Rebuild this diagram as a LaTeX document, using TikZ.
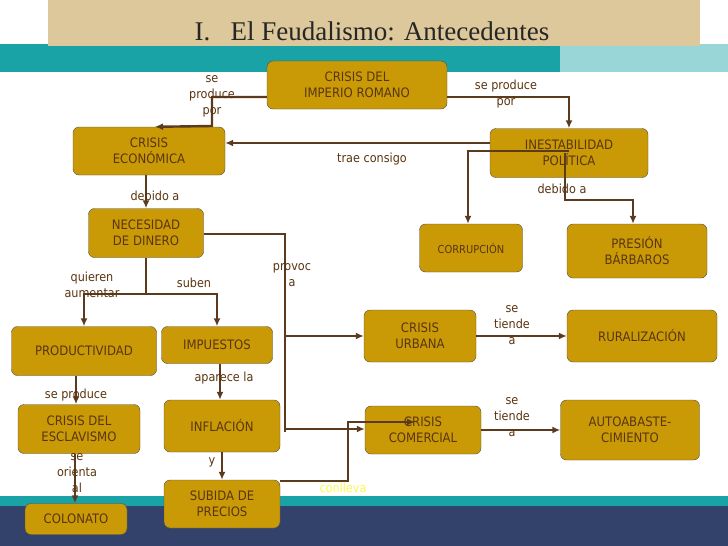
\documentclass[tikz,border=0pt]{standalone}
\usepackage{fontspec}
\setmainfont{Liberation Serif}
\setsansfont{DejaVu Sans Condensed}
\usetikzlibrary{positioning,calc,arrows.meta}
\definecolor{boxgold}{HTML}{C99A06}
\definecolor{boxtext}{HTML}{5A3510}
\definecolor{linebrown}{HTML}{5C3A1E}
\definecolor{bandteal}{HTML}{1AA3A6}
\definecolor{bandnavy}{HTML}{33426B}
\definecolor{titlebg}{HTML}{DCC89A}

\begin{document}
\begin{tikzpicture}[
      x=1pt, y=-1pt,
      concept/.style={draw=black!70, rounded corners=6pt, fill=boxgold, align=center,
        text=boxtext, font=\sffamily\fontsize{13}{16}\selectfont, inner sep=2pt},
      link/.style={draw=linebrown, line width=2.4pt},
      lbl/.style={align=center, text=boxtext, font=\sffamily\fontsize{12.5}{16}\selectfont, inner sep=0pt},
      >={Latex[length=8pt,width=7pt]}
    ]
    \useasboundingbox (0,0) rectangle (728,546);

    % Background bands
    \fill[bandteal] (0,44) rectangle (728,72);
    \fill[bandteal!45] (560,44) rectangle (728,72);
    \fill[titlebg] (48,0) rectangle (700,46);
    \fill[bandteal] (0,496) rectangle (728,506);
    \fill[bandnavy] (0,506) rectangle (728,546);
    \node[font=\fontsize{27}{30}\selectfont, text=black!85] (title) at (372,31) {I.\enspace\ El Feudalismo: Antecedentes};

    % Concepts
    \node[concept, minimum width=180, minimum height=48] (imperio) at (357,85) {CRISIS DEL\\IMPERIO ROMANO};
    \node[concept, minimum width=152, minimum height=48] (econ) at (149,151) {CRISIS\\ECONÓMICA};
    \node[concept, minimum width=158, minimum height=49] (inest) at (569,153) {INESTABILIDAD\\POLÍTICA};
    \node[concept, minimum width=115, minimum height=49] (nec) at (146,233) {NECESIDAD\\DE DINERO};
    \node[concept, minimum width=103, minimum height=48, font=\sffamily\fontsize{11}{13}\selectfont] (corr) at (471,248) {CORRUPCIÓN};
    \node[concept, minimum width=140, minimum height=54] (presion) at (637,251) {PRESIÓN\\BÁRBAROS};
    \node[concept, minimum width=145, minimum height=49] (prod) at (84,351) {PRODUCTIVIDAD};
    \node[concept, minimum width=111, minimum height=37] (imp) at (217,345) {IMPUESTOS};
    \node[concept, minimum width=112, minimum height=52] (urbana) at (420,336) {CRISIS\\URBANA};
    \node[concept, minimum width=150, minimum height=52] (rural) at (642,336) {RURALIZACIÓN};
    \node[concept, minimum width=122, minimum height=49] (escl) at (79,429) {CRISIS DEL\\ESCLAVISMO};
    \node[concept, minimum width=116, minimum height=52] (infl) at (222,426) {INFLACIÓN};
    \node[concept, minimum width=116, minimum height=48] (comer) at (423,430) {CRISIS\\COMERCIAL};
    \node[concept, minimum width=139, minimum height=60] (auto) at (630,430) {AUTOABASTE-\\CIMIENTO};
    \node[concept, minimum width=102, minimum height=31] (colon) at (76,519) {COLONATO};
    \node[concept, minimum width=116, minimum height=48] (subida) at (222,504) {SUBIDA DE\\PRECIOS};

    % Connectors
    \draw[link,->] (imperio.west |- 0,97) -| (212,126) -- (econ.north -| 155,0);
    \draw[link,->] (imperio.east |- 0,97) -| (inest.north);
    \draw[link,->] (inest.west |- 0,143) -- (econ.east |- 0,143);
    \draw[link,->] (inest.center |- 0,151) -| (corr.north -| 468,0);
    \draw[link,->] (inest.center -| 565,0) |- (633,200) -- (presion.north -| 633,0);
    \draw[link,->] (econ.south -| 146,0) -- (nec.north);
    \draw[link] (nec.south) -- (146,294) coordinate (split);
    \draw[link,->] (split) -| (prod.north);
    \draw[link,->] (split) -| (imp.north);
    \draw[link] (nec.east |- 0,234) -| (285,432) coordinate (provend);
    \draw[link,->] (285,336) -- (urbana.west);
    \draw[link,->] (provend |- 0,429) -- (comer.west |- 0,429);
    \draw[link,->] (urbana.east) -- (rural.west);
    \draw[link,->] (comer.east) -- (auto.west);
    \draw[link,->] (prod.south -| 76,0) -- (escl.north -| 76,0);
    \draw[link,->] (imp.south -| 220,0) -- (infl.north -| 220,0);
    \draw[link,->] (escl.south -| 75,0) -- (colon.north -| 75,0);
    \draw[link,->] (infl.south) -- (subida.north);
    \draw[link,->] (subida.east |- 0,481) -| (348,422) -- (415,422);

    % Labels
    \node[lbl] (l1) at (212,96) {se\\produce\\por};
    \node[lbl] (l2) at (506,94) {se produce\\por};
    \node[lbl] (l3) at (372,159) {trae consigo};
    \node[lbl] (l4) at (562,189) {debido a};
    \node[lbl] (l5) at (155,196) {debido a};
    \node[lbl] (l6) at (92,285) {quieren\\aumentar};
    \node[lbl] (l7) at (194,283) {suben};
    \node[lbl] (l8) at (292,275) {provoc\\a};
    \node[lbl] (l9) at (512,325) {se\\tiende\\a};
    \node[lbl] (l10) at (512,417) {se\\tiende\\a};
    \node[lbl] (l11) at (76,395) {se produce};
    \node[lbl] (l12) at (224,378) {aparece la};
    \node[lbl] (l13) at (77,473) {se\\orienta\\al};
    \node[lbl] (l14) at (212,462) {y};
    \node[lbl, text=yellow!70!white] (l15) at (343,488) {conlleva};

  \end{tikzpicture}
\end{document}
